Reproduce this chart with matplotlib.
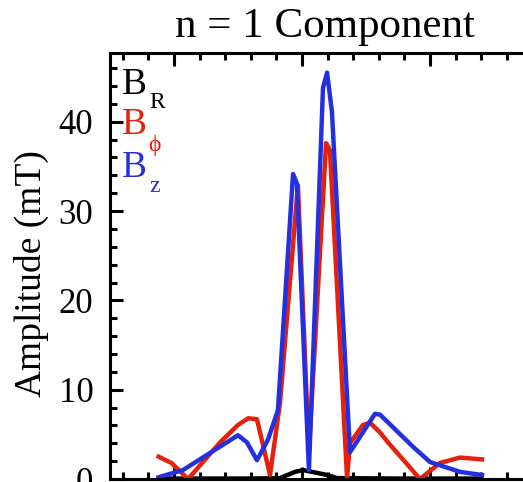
import matplotlib
matplotlib.use("Agg")
import matplotlib.pyplot as plt
from matplotlib.ticker import MultipleLocator

W, H = 523, 482

# x in minor-tick units (scan centre = 0), amplitude in mT
br_x = [-5.6, -2.0, -0.86, -0.27, 0.04, 0.39, 0.98, 1.37, 3.8, 7.0]
br_y = [0.05, 0.05, 0.1, 0.8, 1.0, 0.8, 0.45, 0.1, 0.05, 0.05]

bphi_x = [-5.6, -5.1, -4.45, -3.2, -2.5, -2.1, -1.76, -1.25, -0.86, -0.16,
          0.27, 0.94, 1.09, 1.76, 1.875, 2.38, 2.66, 3.05, 3.36, 4.61,
          5.39, 6.17, 7.03]
bphi_y = [2.5, 1.8, 0.0, 4.1, 6.05, 6.8, 6.7, 0.45, 8.5, 32.9,
          3.0, 37.6, 36.8, 0.1, 4.0, 6.05, 6.3, 5.2, 4.1, 0.0,
          1.8, 2.4, 2.2]

bz_x = [-5.6, -4.65, -3.6, -2.5, -2.15, -1.76, -1.33, -0.94, -0.35, -0.2,
        0.27, 0.82, 0.98, 1.17, 1.875, 2.85, 3.05, 4.34, 5.0, 6.17, 7.03]
bz_y = [0.2, 1.0, 2.9, 4.9, 4.1, 2.1, 4.4, 7.7, 34.15, 33.1,
        1.0, 43.8, 45.5, 41.1, 3.0, 7.3, 7.2, 3.6, 1.9, 0.8, 0.45]

red = '#e3210c'
blue = '#2430e0'

plt.rcParams['font.family'] = ['Liberation Serif', 'DejaVu Serif']


def px(x, y):
    # pixel from top-left -> figure fraction
    return x / W, 1 - y / H


fig = plt.figure(figsize=(W / 100, H / 100), dpi=100)
ax = fig.add_axes([110 / W, 3 / H, 448 / W, 426 / H])

ax.plot(br_x, br_y, color='black', lw=3.2)
ax.plot(bphi_x, bphi_y, color=red, lw=3.2)
ax.plot(bz_x, bz_y, color=blue, lw=3.2)

ax.set_xlim(-7.5, 10)
ax.set_ylim(0, 47.7)
ax.xaxis.set_major_locator(MultipleLocator(5))
ax.xaxis.set_minor_locator(MultipleLocator(1))
ax.yaxis.set_major_locator(MultipleLocator(10))
ax.yaxis.set_minor_locator(MultipleLocator(2))
ax.tick_params(which='both', direction='in', top=True, bottom=True,
               right=False, width=2.2, labelbottom=False)
ax.tick_params(which='major', length=9, labelsize=25, pad=12)
ax.tick_params(which='minor', length=5)
for s in ax.spines.values():
    s.set_linewidth(2.2)

fig.text(*px(325, 37), 'n = 1 Component', fontsize=31, ha='center', va='baseline')
fig.text(*px(31, 274), 'Amplitude (mT)', fontsize=27, rotation=90,
         ha='center', va='center')

# legend labels with subscripts
fig.text(*px(122, 94), 'B', fontsize=27, color='black', va='baseline')
fig.text(*px(149, 108), 'R', fontsize=17, color='black', va='baseline')
fig.text(*px(122, 134), 'B', fontsize=27, color=red, va='baseline')
fig.text(*px(148, 151), '\u03d5', fontsize=17, color=red, va='baseline')
fig.text(*px(122, 177), 'B', fontsize=27, color=blue, va='baseline')
fig.text(*px(149, 192), 'z', fontsize=17, color=blue, va='baseline')

fig.savefig('out.png', dpi=100)
